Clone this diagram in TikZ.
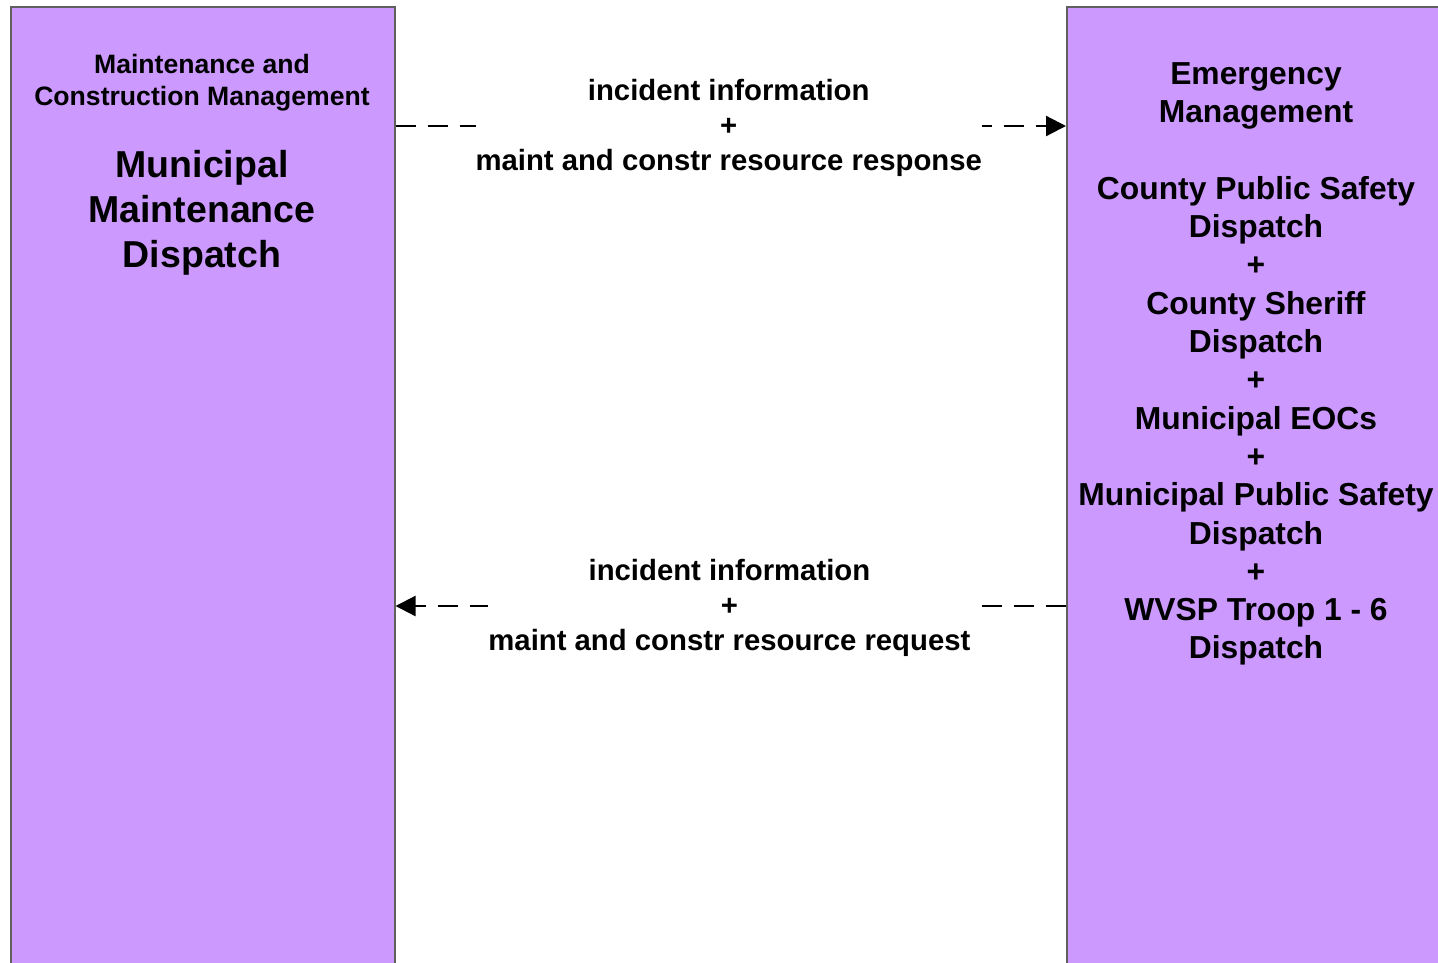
\documentclass[tikz,border=0pt]{standalone}
\usepackage{fontspec}
\setmainfont{Liberation Sans}
\usetikzlibrary{arrows.meta}
\definecolor{boxfill}{HTML}{CC99FF}
\definecolor{boxline}{HTML}{606060}
\begin{document}
\begin{tikzpicture}[x=1pt,y=-1pt,
  sysbox/.style={draw=boxline,line width=1.5pt,fill=boxfill},
  flow/.style={line width=2.2pt,dash pattern=on 20pt off 12pt},
  flowlab/.style={fill=white,inner sep=0pt,align=center,font=\fontsize{29.3}{35}\selectfont\bfseries},
  tip/.style={-{Triangle[length=20pt,width=20pt]}}
]
\clip (0,0) rectangle (1438,962);
\useasboundingbox (0,0) rectangle (1438,962);
\fill[white] (0,0) rectangle (1438,962);
% boxes
\node[sysbox,minimum width=384pt,minimum height=980pt,anchor=north west,inner sep=0pt] (mmd) at (10,6) {};
\node[sysbox,minimum width=382pt,minimum height=980pt,anchor=north west,inner sep=0pt] (em) at (1066,6) {};
% left texts
\node[align=center,font=\fontsize{26.6}{32}\selectfont\bfseries] (mcm) at (202,83) {Maintenance and\\Construction Management};
\node[align=center,font=\fontsize{37.5}{45}\selectfont\bfseries] (mmdname) at (202,213) {Municipal\\Maintenance\\Dispatch};
% right texts
\node[align=center,font=\fontsize{31.8}{38.3}\selectfont\bfseries] (emtext) at (1256,364) {Emergency\\Management\\[38.3pt]County Public Safety\\Dispatch\\+\\County Sheriff\\Dispatch\\+\\Municipal EOCs\\+\\Municipal Public Safety\\Dispatch\\+\\WVSP Troop 1 - 6\\Dispatch};
% flows
\draw[flow,tip] (mmd.east |- 0,126) -- (em.west |- 0,126)
  node[flowlab,pos=0.497,yshift=-2pt] (f1) {incident information\\+\\maint and constr resource response};
\draw[flow,tip] (em.west |- 0,606) -- (mmd.east |- 0,606)
  node[flowlab,pos=0.502,yshift=-2pt] (f2) {incident information\\+\\maint and constr resource request};
\end{tikzpicture}
\end{document}
